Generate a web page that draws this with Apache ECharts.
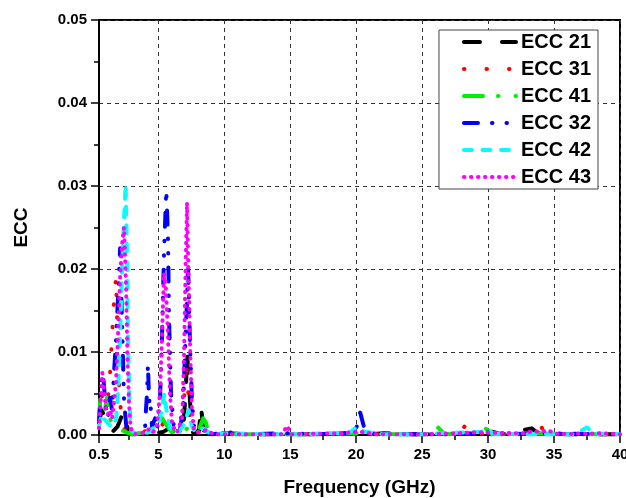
<!DOCTYPE html>
<html>
<head>
<meta charset="utf-8">
<script src="https://cdn.jsdelivr.net/npm/echarts@6/dist/echarts.min.js"></script>
<style>
  html, body { margin: 0; padding: 0; background: #fff; }
  #chart { width: 626px; height: 498px; }
</style>
</head>
<body>
<div id="chart"></div>
<script>
// Envelope correlation coefficient between antenna ports versus frequency, [GHz, ECC]
const ecc21 = [[0.5,0.0015],[0.7,0.003],[0.85,0.0025],[1.0,0.0012],[1.3,0.0008],[1.6,0.0005],[1.9,0.001],[2.2,0.0022],[2.4,0.0028],[2.6,0.0012],[2.8,0.0003],[3.0,0.0001],[4.0,0.0002],[4.4,0.0006],[4.8,0.0002],[5.4,0.0004],[5.8,0.0008],[6.3,0.0002],[6.87,0.0005],[6.94,0.002],[7.1,0.006],[7.17,0.0102],[7.32,0.0062],[7.48,0.002],[7.63,0.0003],[8.08,0.0005],[8.23,0.0035],[8.38,0.0012],[8.54,0.0002],[9.2,0.0001],[10,0.0002],[12,0.0001],[15,0.0001],[18,0.0001],[20.1,0.0003],[21,0.0001],[22.1,0.0002],[24,0.0001],[27,0.0001],[30.3,0.0004],[31,0.0001],[33.3,0.0008],[33.8,0.0002],[36,0.0001],[40,0.0001]];
const ecc31 = [[0.5,0.002],[0.7,0.0045],[0.85,0.0052],[1.0,0.004],[1.18,0.0045],[1.33,0.0072],[1.49,0.012],[1.64,0.0162],[1.79,0.019],[1.9,0.0125],[2.02,0.006],[2.2,0.002],[2.5,0.0005],[2.9,0.0001],[3.5,0.0001],[4.2,0.0006],[4.6,0.0003],[5.2,0.0008],[5.5,0.002],[5.8,0.0005],[6.5,0.0002],[6.94,0.004],[7.1,0.009],[7.25,0.0055],[7.4,0.002],[7.6,0.0004],[8.3,0.0004],[8.6,0.0001],[10,0.0001],[14,0.0001],[19,0.0001],[22,0.0001],[26,0.0001],[27.8,0.0002],[28.3,0.0012],[28.8,0.0002],[31,0.0001],[33.4,0.0003],[33.9,0.0014],[34.3,0.0002],[37,0.0001],[40,0.0001]];
const ecc41 = [[0.5,0.002],[0.65,0.0055],[0.8,0.005],[0.95,0.003],[1.1,0.0045],[1.3,0.002],[1.6,0.0012],[1.9,0.0008],[2.2,0.0006],[2.6,0.0003],[3.0,0.0001],[4.0,0.0003],[4.3,0.0009],[4.6,0.0003],[5.0,0.0008],[5.3,0.002],[5.6,0.0012],[6.0,0.0004],[6.6,0.0002],[7.2,0.0008],[7.6,0.0003],[8.0,0.0004],[8.4,0.002],[8.6,0.0015],[8.8,0.0003],[9.5,0.0001],[12,0.0001],[16,0.0001],[20,0.0002],[23,0.0001],[25.6,0.0001],[26.2,0.0009],[26.7,0.0001],[28.8,0.0002],[29.8,0.0008],[30.3,0.0001],[33.3,0.0002],[36,0.0001],[40,0.0001]];
const ecc32 = [[0.5,0.0015],[0.6,0.004],[0.72,0.0075],[0.85,0.0065],[1.0,0.0035],[1.18,0.002],[1.33,0.0045],[1.49,0.003],[1.64,0.0075],[1.79,0.0115],[1.94,0.0165],[2.1,0.0225],[2.25,0.0135],[2.4,0.004],[2.6,0.0005],[2.9,0.0001],[3.5,0.0001],[3.99,0.0008],[4.06,0.003],[4.14,0.005],[4.21,0.0085],[4.3,0.004],[4.37,0.0045],[4.52,0.001],[4.75,0.002],[4.9,0.0006],[5.12,0.004],[5.28,0.012],[5.43,0.022],[5.6,0.0295],[5.73,0.024],[5.81,0.014],[5.96,0.005],[6.19,0.0006],[6.6,0.0002],[6.87,0.003],[7.02,0.01],[7.17,0.016],[7.25,0.0205],[7.4,0.011],[7.55,0.004],[7.7,0.001],[8.0,0.0003],[8.5,0.0006],[9.0,0.0001],[10.5,0.0003],[11.5,0.0001],[14.8,0.0002],[17,0.0001],[19.2,0.0002],[20.0,0.0008],[20.3,0.0027],[20.6,0.0009],[21,0.0002],[24,0.0001],[27,0.0001],[29,0.0002],[30,0.0003],[32,0.0001],[35,0.0002],[38.5,0.0001],[40,0.0001]];
const ecc42 = [[0.5,0.001],[0.7,0.0025],[0.85,0.002],[1.0,0.0018],[1.3,0.0012],[1.6,0.001],[1.8,0.002],[1.94,0.005],[2.1,0.012],[2.25,0.02],[2.4,0.026],[2.52,0.0302],[2.62,0.022],[2.7,0.012],[2.8,0.004],[2.93,0.0006],[3.3,0.0001],[4.2,0.0003],[4.6,0.0008],[5.0,0.0012],[5.25,0.003],[5.45,0.005],[5.6,0.0032],[5.9,0.0008],[6.5,0.0002],[7.0,0.0015],[7.3,0.003],[7.5,0.0012],[7.8,0.0003],[8.4,0.0008],[9,0.0001],[10.5,0.0002],[13,0.0001],[16,0.0001],[19.5,0.0003],[20.1,0.001],[20.6,0.0004],[22,0.0001],[25,0.0001],[29.5,0.0004],[29.9,0.0007],[30.4,0.0002],[33,0.0001],[36.5,0.0001],[37.5,0.0009],[38,0.0002],[40,0.0001]];
const ecc43 = [[0.5,0.0008],[0.62,0.004],[0.75,0.0075],[0.85,0.006],[1.0,0.0035],[1.18,0.0025],[1.33,0.003],[1.49,0.002],[1.64,0.004],[1.79,0.0065],[1.94,0.012],[2.1,0.019],[2.25,0.023],[2.4,0.025],[2.55,0.018],[2.65,0.01],[2.77,0.004],[2.9,0.0008],[3.2,0.0001],[3.8,0.0002],[4.3,0.0007],[4.6,0.0003],[4.9,0.0012],[5.12,0.005],[5.28,0.012],[5.43,0.0195],[5.58,0.0175],[5.73,0.012],[5.88,0.005],[6.05,0.0012],[6.4,0.0003],[6.8,0.002],[6.94,0.009],[7.05,0.019],[7.17,0.028],[7.28,0.02],[7.4,0.011],[7.55,0.003],[7.7,0.0006],[8.1,0.0003],[8.6,0.0006],[9.2,0.0001],[11,0.0001],[14.4,0.0001],[14.75,0.0011],[15.1,0.0001],[18.8,0.0002],[20.2,0.0004],[21.5,0.0001],[25,0.0001],[27.5,0.0002],[29,0.0003],[32.7,0.0002],[33.2,0.0004],[34.6,0.0005],[35.3,0.0001],[38.5,0.0002],[40,0.0001]];

const seriesNames = ['ECC 21', 'ECC 31', 'ECC 41', 'ECC 32', 'ECC 42', 'ECC 43'];
const seriesData = [ecc21, ecc31, ecc41, ecc32, ecc42, ecc43];

// Tick positions on the frequency axis
const xMajorTicks = [0.5, 5, 10, 15, 20, 25, 30, 35, 40];
const xMinorTicks = [2.75, 7.5, 12.5, 17.5, 22.5, 27.5, 32.5, 37.5];

const colors = ['#000000', '#ff0000', '#00ee00', '#0000ff', '#00ffff', '#ff00ff'];
const dashes = [
  [16, 22],
  [0.5, 22],
  [19, 15, 0.5, 17],
  [14, 14, 0.5, 14, 0.5, 14],
  [8, 10.5],
  [0.5, 6.5]
];

const FONT = '"Liberation Sans", Arial, sans-serif';

const chart = echarts.init(document.getElementById('chart'), null, { renderer: 'canvas' });

const option = {
  animation: false,
  backgroundColor: '#ffffff',
  grid: {
    left: 99, right: 6, top: 20, bottom: 63,
    outerBoundsMode: 'none',
    show: true, borderColor: '#000', borderWidth: 2, backgroundColor: 'transparent'
  },
  legend: {
    orient: 'vertical',
    right: 28, top: 30,
    backgroundColor: '#ffffff',
    borderColor: '#444',
    borderWidth: 1,
    padding: [2, 7, 2, 23],
    itemWidth: 52,
    itemHeight: 20,
    itemGap: 7,
    itemTextGap: 3,
    itemStyle: { opacity: 0 },
    lineStyle: { width: 4, cap: 'round' },
    textStyle: { fontFamily: FONT, fontWeight: 'bold', fontSize: 20, color: '#000' },
    data: seriesNames
  },
  xAxis: [
    {
      type: 'value', min: 0.5, max: 40, position: 'bottom',
      name: 'Frequency (GHz)', nameLocation: 'middle', nameGap: 43,
      nameTextStyle: { fontFamily: FONT, fontWeight: 'bold', fontSize: 19, color: '#000' },
      axisLine: { show: true, onZero: false, lineStyle: { color: '#000', width: 2 } },
      axisTick: { show: true, customValues: xMajorTicks, length: 8, inside: false, lineStyle: { color: '#000', width: 1.5 } },
      axisLabel: { customValues: xMajorTicks, margin: 12, fontFamily: FONT, fontWeight: 'bold', fontSize: 15, color: '#000',
        formatter: v => String(v) },
      splitLine: { show: true, lineStyle: { color: '#333', width: 1, type: [4, 4] } }
    },
    {
      type: 'value', min: 0.5, max: 40, position: 'bottom',
      axisLine: { show: false },
      axisTick: { show: true, customValues: xMinorTicks, length: 5, inside: false, lineStyle: { color: '#000', width: 1.5 } },
      axisLabel: { show: false },
      splitLine: { show: false }
    }
  ],
  yAxis: {
    type: 'value', min: 0, max: 0.05, interval: 0.01,
    name: 'ECC', nameLocation: 'middle', nameGap: 68,
    nameTextStyle: { fontFamily: FONT, fontWeight: 'bold', fontSize: 19, color: '#000' },
    axisLine: { show: true, lineStyle: { color: '#000', width: 2 } },
    axisTick: { show: true, length: 8, inside: false, lineStyle: { color: '#000', width: 1.5 } },
    minorTick: { show: true, splitNumber: 2, length: 5, lineStyle: { color: '#000', width: 1.5 } },
    axisLabel: { margin: 12, fontFamily: FONT, fontWeight: 'bold', fontSize: 15, color: '#000',
      formatter: v => v.toFixed(2) },
    splitLine: { show: true, lineStyle: { color: '#333', width: 1, type: [4, 4] } }
  },
  series: seriesNames.map((name, i) => ({
    name,
    type: 'line',
    xAxisIndex: 0,
    data: seriesData[i],
    symbol: 'none',
    showSymbol: false,
    clip: true,
    lineStyle: { color: colors[i], width: 4, type: dashes[i], cap: 'round', join: 'round' },
    itemStyle: { color: colors[i] }
  }))
};

chart.setOption(option);
</script>
</body>
</html>
